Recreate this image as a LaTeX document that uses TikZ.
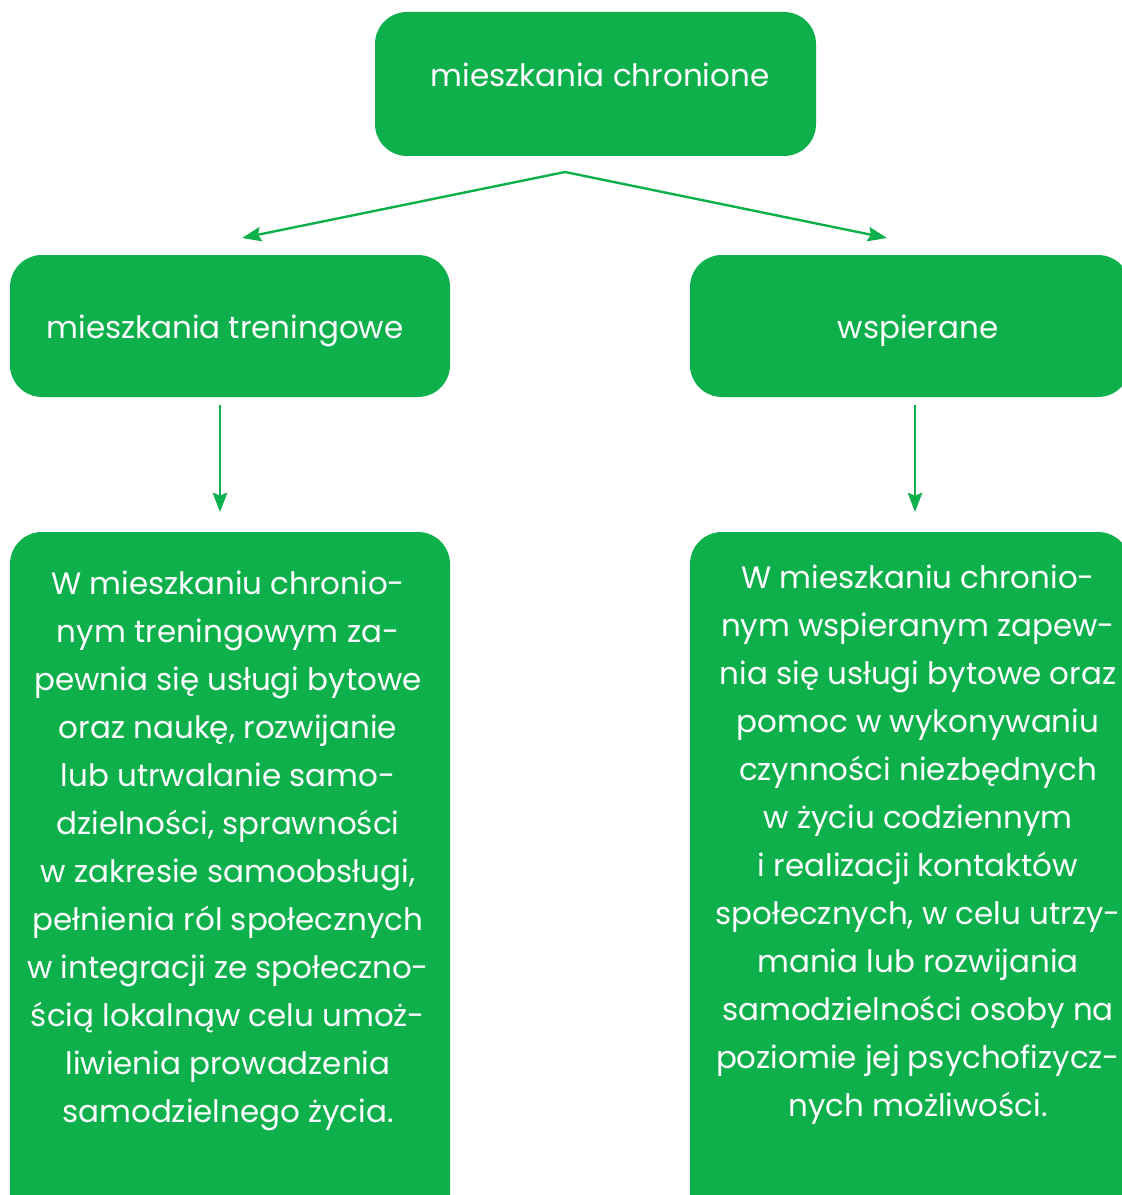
\documentclass[tikz,border=0pt]{standalone}
\usepackage{fontspec}
\setmainfont{Poppins}
\usetikzlibrary{arrows.meta}
\definecolor{panelgreen}{RGB}{13,176,75}
\def\panelradius{0.8cm}

\begin{document}
\begin{tikzpicture}[x = 0.025cm, y = -0.025cm,
  panel/.style = {fill = panelgreen, rounded corners = \panelradius},
  label/.style = {text = white, align = center, inner sep = 0pt,
    font = \fontsize{22}{34.14}\selectfont},
  link/.style = {draw = panelgreen, line width = 1.7pt,
    -{Stealth[length = 0.48cm, width = 0.36cm, inset = 0.07cm]}}]

  \useasboundingbox (0,0) rectangle (1122,1195);

  % top
  \fill [panel] (375,12) rectangle (816,156);
  \node [label] (chronione) at (600,75) {mieszkania chronione};

  % second row
  \fill [panel] (10,255) rectangle (450,397);
  \node [label] (treningowe) at (225,331) {mieszkania treningowe};
  \fill [panel] (690,255) rectangle (1130,397);
  \node [label] (wspierane) at (918,331) {wspierane};

  % third row
  \fill [panel] (10,532) rectangle (450,1240);
  \node [label] (treningowe_opis) at (228,851) {W mieszkaniu chronio-\\
    nym treningowym za-\\
    pewnia się usługi bytowe\\
    oraz naukę, rozwijanie\\
    lub utrwalanie samo-\\
    dzielności, sprawności\\
    w zakresie samoobsługi,\\
    pełnienia ról społecznych\\
    w integracji ze społeczno-\\
    ścią lokalnąw celu umoż-\\
    liwienia prowadzenia\\
    samodzielnego życia.};
  \fill [panel] (690,532) rectangle (1130,1240);
  \node [label] (wspierane_opis) at (918,845) {W mieszkaniu chronio-\\
    nym wspieranym zapew-\\
    nia się usługi bytowe oraz\\
    pomoc w wykonywaniu\\
    czynności niezbędnych\\
    w życiu codziennym\\
    i realizacji kontaktów\\
    społecznych, w celu utrzy-\\
    mania lub rozwijania\\
    samodzielności osoby na\\
    poziomie jej psychofizycz-\\
    nych możliwości.};

  % connectors
  \coordinate (fork) at (565,172);
  \coordinate (fork_left) at (242,238);
  \coordinate (fork_right) at (887,238);
  \coordinate (treningowe_out) at (220,405);
  \coordinate (treningowe_in) at (220,512);
  \coordinate (wspierane_out) at (915,405);
  \coordinate (wspierane_in) at (915,512);

  \draw [link] (fork) -- (fork_left);
  \draw [link] (fork) -- (fork_right);
  \draw [link] (treningowe_out) -- (treningowe_in);
  \draw [link] (wspierane_out) -- (wspierane_in);

\end{tikzpicture}
\end{document}
